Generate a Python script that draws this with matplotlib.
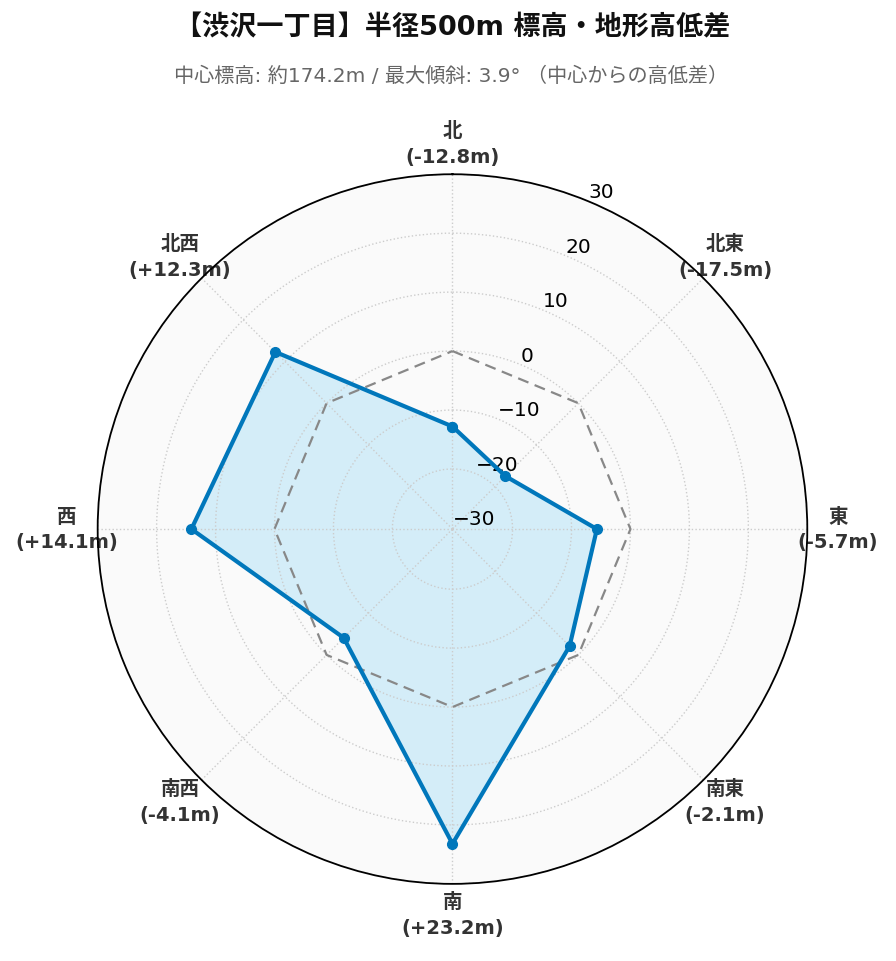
import matplotlib
matplotlib.use('Agg')
import matplotlib.pyplot as plt
import numpy as np

plt.rcParams['font.family'] = ['DejaVu Sans', 'Noto Sans CJK JP']

# data
directions = ['北', '北東', '東', '南東', '南', '南西', '西', '北西']
diffs = [-12.8, -17.5, -5.7, -2.1, 23.2, -4.1, 14.1, 12.3]
baseline = [0, 0, 0, 0, 0, 0, 0, 0]
r_ticks = [-30, -20, -10, 0, 10, 20, 30]

title = '【渋沢一丁目】半径500m 標高・地形高低差'
subtitle = '中心標高: 約174.2m / 最大傾斜: 3.9° （中心からの高低差）'

line_color = '#0077bb'
fill_color = '#d4edf8'

angles = np.linspace(0, 2 * np.pi, len(directions), endpoint=False)
ang_c = np.append(angles, angles[0])
vals_c = np.append(diffs, diffs[0])
base_c = np.append(baseline, baseline[0])

fig = plt.figure(figsize=(8.96, 9.62), dpi=100)
ax = fig.add_axes([0.109, 0.080, 0.792, 0.738], projection='polar')
ax.set_theta_zero_location('N')
ax.set_theta_direction(-1)
ax.set_facecolor('#fafafa')

ax.fill(ang_c, vals_c, color=fill_color, zorder=2)
ax.plot(ang_c, base_c, color='#888888', lw=1.6, ls=(0, (5, 3)), zorder=4)
ax.plot(ang_c, vals_c, color=line_color, lw=3, marker='o', ms=7, zorder=5)

ax.set_ylim(-30.2, 30)
ax.set_yticks(r_ticks)
ax.set_yticklabels(['−30', '−20', '−10', '0', '10', '20', '30'], fontsize=14.5)
ax.set_rlabel_position(22.5)
ax.set_xticks(angles)
ax.set_xticklabels([])
ax.tick_params(axis='x', length=0)
ax.grid(True, color='#cccccc', ls=':', lw=1)
# grid + radial labels above the fill
ax.xaxis.set_zorder(3)
ax.yaxis.set_zorder(3)
ax.spines['polar'].set_color('black')
ax.spines['polar'].set_linewidth(1.3)
ax.spines['polar'].set_zorder(6)

for a, name, v in zip(angles, directions, diffs):
    label = '%s\n(%+.1fm)' % (name, v)
    x = 0.5 + 0.543 * np.sin(a)
    y = 0.5 + 0.543 * np.cos(a)
    ax.text(x, y, label, transform=ax.transAxes, ha='center', va='center',
            fontsize=14, fontweight='bold', color='#333333',
            linespacing=1.45, clip_on=False)

fig.text(0.505, 0.971, title, ha='center', va='center',
         fontsize=19.5, fontweight='bold', color='#111111')
fig.text(0.503, 0.921, subtitle, ha='center', va='center',
         fontsize=14.5, color='#666666')

fig.savefig('out.png', dpi=100, facecolor='white')
